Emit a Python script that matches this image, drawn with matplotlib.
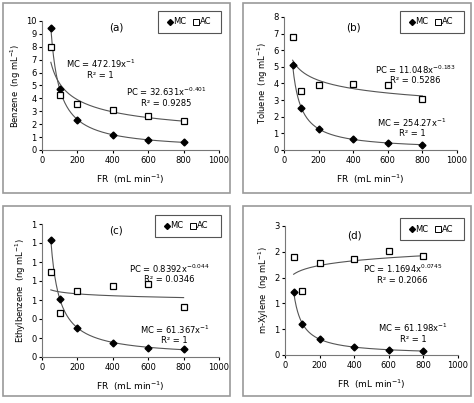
import numpy as np
import matplotlib
matplotlib.use('Agg')
import matplotlib.pyplot as plt
from matplotlib.patches import Rectangle

FR = [50, 100, 200, 400, 600, 800]

benz_mc = [9.44, 4.72, 2.36, 1.18, 0.79, 0.59]
benz_ac = [8.0, 4.25, 3.6, 3.1, 2.65, 2.25]
tol_mc = [5.09, 2.54, 1.27, 0.64, 0.42, 0.32]
tol_ac = [6.8, 3.55, 3.9, 3.95, 3.9, 3.05]
eth_mc = [1.23, 0.61, 0.31, 0.15, 0.10, 0.08]
eth_ac = [0.90, 0.46, 0.69, 0.75, 0.77, 0.53]
xyl_mc = [1.22, 0.61, 0.31, 0.15, 0.10, 0.08]
xyl_ac = [1.90, 1.24, 1.79, 1.86, 2.01, 1.92]

# trendline coefficients (a, b) for y = a*x^b
fits = {
    'a': ((472.19, -1), (32.631, -0.401)),
    'b': ((254.27, -1), (11.048, -0.183)),
    'c': ((61.367, -1), (0.8392, -0.044)),
    'd': ((61.198, -1), (1.1694, 0.0745)),
}

W, H = 474, 403
fig = plt.figure(figsize=(W / 100, H / 100), dpi=100)
fig.patch.set_facecolor('white')

def px_axes(l, r, t, b):
    return fig.add_axes([l / W, 1 - b / H, (r - l) / W, (b - t) / H])

panels = [
    dict(box=(3, 3, 230, 193), ax=(42, 219, 21, 150), mc=benz_mc, ac=benz_ac,
         yl='Benzene  (ng mL$^{-1}$)', ylim=10, yt=list(range(0, 11)), ytl=None,
         tag='(a)', tagxy=(0.42, 0.95), leg=(158, 221, 11, 33),
         mceq=(0.33, 0.63, 'MC = 472.19x$^{-1}$\nR² = 1'),
         pceq=(0.70, 0.41, 'PC = 32.631x$^{-0.401}$\nR² = 0.9285')),
    dict(box=(243, 3, 471, 193), ax=(284, 457, 17, 150), mc=tol_mc, ac=tol_ac,
         yl='Toluene  (ng mL$^{-1}$)', ylim=8, yt=list(range(0, 9)), ytl=None,
         tag='(b)', tagxy=(0.40, 0.92), leg=(400, 464, 11, 33),
         mceq=(0.74, 0.17, 'MC = 254.27x$^{-1}$\nR² = 1'),
         pceq=(0.76, 0.57, 'PC = 11.048x$^{-0.183}$\nR² = 0.5286')),
    dict(box=(3, 206, 230, 396), ax=(42, 219, 224, 357), mc=eth_mc, ac=eth_ac,
         yl='Ethylbenzene  (ng mL$^{-1}$)', ylim=1.4,
         yt=[0, 0.2, 0.4, 0.6, 0.8, 1.0, 1.2, 1.4],
         ytl=['0', '0', '0', '1', '1', '1', '1', '1'],
         tag='(c)', tagxy=(0.42, 0.95), leg=(155, 221, 215, 237),
         mceq=(0.75, 0.17, 'MC = 61.367x$^{-1}$\nR² = 1'),
         pceq=(0.72, 0.63, 'PC = 0.8392x$^{-0.044}$\nR² = 0.0346')),
    dict(box=(243, 206, 471, 396), ax=(285, 458, 226, 355), mc=xyl_mc, ac=xyl_ac,
         yl='m-Xylene  (ng mL$^{-1}$)', ylim=2.5,
         yt=[0, 0.5, 1.0, 1.5, 2.0, 2.5],
         ytl=['0', '1', '1', '2', '2', '3'],
         tag='(d)', tagxy=(0.40, 0.93), leg=(400, 464, 218, 240),
         mceq=(0.74, 0.17, 'MC = 61.198x$^{-1}$\nR² = 1'),
         pceq=(0.68, 0.63, 'PC = 1.1694x$^{0.0745}$\nR² = 0.2066')),
]

xs = np.linspace(50, 800, 200)
for key, p in zip('abcd', panels):
    x0, y0, x1, y1 = p['box']
    fig.patches.append(Rectangle((x0 / W, 1 - y1 / H), (x1 - x0) / W, (y1 - y0) / H,
                                 transform=fig.transFigure, fill=False,
                                 edgecolor='#9a9a9a', lw=1.2))
    ax = px_axes(*p['ax'])
    (ma, mb), (pa, pb) = fits[key]
    ax.plot(xs, ma * xs ** mb, color='#555555', lw=0.8)
    ax.plot(xs, pa * xs ** pb, color='#555555', lw=0.8)
    ax.plot(FR, p['mc'], 'D', color='black', ms=3.5, ls='none')
    ax.plot(FR, p['ac'], 's', mfc='white', mec='black', mew=0.9, ms=5, ls='none')
    ax.set_xlim(0, 1000)
    ax.set_ylim(0, p['ylim'])
    ax.set_xticks(range(0, 1001, 200))
    ax.set_yticks(p['yt'])
    if p['ytl']:
        ax.set_yticklabels(p['ytl'])
    ax.tick_params(labelsize=6, length=2, pad=2)
    ax.spines[['top', 'right']].set_visible(False)
    ax.spines[['left', 'bottom']].set_color('#777777')
    ax.set_ylabel(p['yl'], fontsize=6, labelpad=2)
    ax.set_xlabel('FR  (mL min$^{-1}$)', fontsize=6.5, labelpad=6)
    ax.text(*p['tagxy'], p['tag'], transform=ax.transAxes, fontsize=7.5,
            ha='center', va='center')
    ax.text(p['mceq'][0], p['mceq'][1], p['mceq'][2], transform=ax.transAxes,
            fontsize=6, ha='center', va='center', linespacing=1.1)
    ax.text(p['pceq'][0], p['pceq'][1], p['pceq'][2], transform=ax.transAxes,
            fontsize=6, ha='center', va='center', linespacing=1.1)
    # legend box
    l, r, t, b = p['leg']
    fig.patches.append(Rectangle((l / W, 1 - b / H), (r - l) / W, (b - t) / H,
                                 transform=fig.transFigure, fill=False,
                                 edgecolor='#555555', lw=0.8))
    cy = 1 - (t + b) / 2 / H
    fig.lines.append(plt.Line2D([(l + 12) / W], [cy], marker='D', color='black',
                                ms=3, transform=fig.transFigure))
    fig.text((l + 15) / W, cy, 'MC', fontsize=6, va='center')
    fig.lines.append(plt.Line2D([(l + 38) / W], [cy], marker='s', mfc='white',
                                mec='black', mew=0.7, ms=4, transform=fig.transFigure))
    fig.text((l + 42) / W, cy, 'AC', fontsize=6, va='center')

plt.savefig('out.png', dpi=100, facecolor='white')
